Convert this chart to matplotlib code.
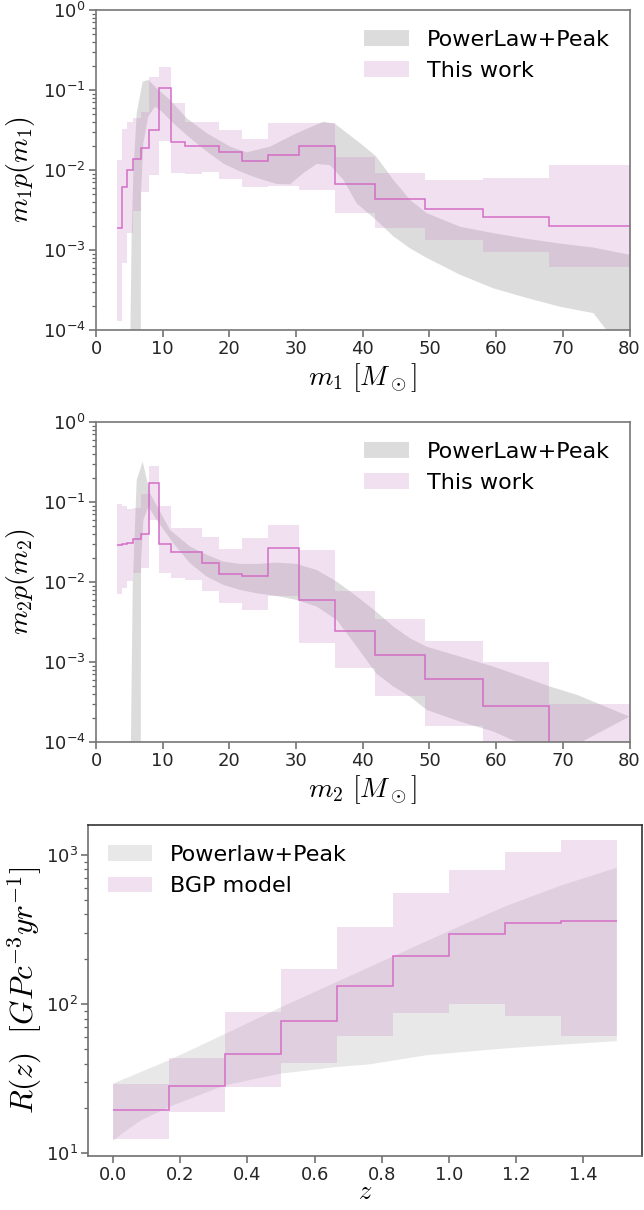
import numpy as np
import matplotlib
matplotlib.use("Agg")
import matplotlib.pyplot as plt

plt.rcParams['font.family'] = ['DejaVu Sans']
plt.rcParams['mathtext.fontset'] = 'cm'

# ---------------- m1 panel ----------------
m_edges = [3.1, 3.85, 4.6, 5.6, 6.7, 8.0, 9.5, 11.2, 13.35, 15.85, 18.5, 21.9,
           25.85, 30.4, 35.8, 41.9, 49.4, 58.0, 68.0, 80.0]
m1_med = [1.87e-3, 6.07e-3, 1.0e-2, 1.37e-2, 1.87e-2, 3.16e-2, 0.106, 2.26e-2, 2.0e-2,
          2.0e-2, 1.66e-2, 1.31e-2, 1.54e-2, 2.0e-2, 6.68e-3, 4.34e-3, 3.23e-3, 2.61e-3, 2.0e-3]
m1_hi = [1.33e-2, 3.25e-2, 3.95e-2, 4.5e-2, 5.26e-2, 0.147, 0.196, 6.8e-2, 3.95e-2,
         3.95e-2, 3.16e-2, 2.42e-2, 3.83e-2, 3.83e-2, 1.44e-2, 9.26e-3, 7.5e-3, 7.9e-3, 1.15e-2]
m1_lo = [1.31e-4, 6.8e-4, 1.62e-3, 3.1e-3, 5.26e-3, 8.66e-3, 2.3e-2, 9.1e-3, 8.8e-3,
         9.4e-3, 7.7e-3, 6.2e-3, 6.3e-3, 5.6e-3, 2.88e-3, 1.87e-3, 1.33e-3, 9.3e-4, 6.1e-4]

# PowerLaw+Peak band (m1): upper and lower edges, log10 values
pl1_up_m = [5.0, 5.35, 5.6, 6.1, 7.0, 7.85, 9.1, 11.1, 13.6, 16.6, 20.1, 22.6, 26.1,
            30.1, 34.1, 35.85, 39.6, 42.0, 44.6, 47.1, 49.6, 54.6, 59.6, 64.6, 69.6, 74.6, 80.0]
pl1_up_lg = [-5, -2.79, -2.04, -1.29, -0.896, -0.875, -0.979, -1.125, -1.354, -1.54, -1.708,
             -1.78, -1.708, -1.54, -1.396, -1.425, -1.665, -1.83, -2.125, -2.375, -2.54,
             -2.71, -2.79, -2.86, -2.92, -2.97, -3.06]
pl1_lo_m = [6.7, 6.75, 7.1, 7.85, 8.85, 9.85, 11.6, 14.1, 16.6, 19.1, 21.6, 24.1, 27.1,
            29.1, 31.1, 33.1, 35.1, 37.1, 39.1, 42.0, 44.6, 47.1, 49.6, 54.6, 59.6, 64.6,
            69.6, 74.6, 77.0, 80.0]
pl1_lo_lg = [-5, -2.29, -1.667, -1.33, -1.21, -1.27, -1.417, -1.6, -1.77, -1.92, -2.02,
             -2.1, -2.175, -2.18, -2.04, -1.925, -1.94, -2.125, -2.42, -2.625, -2.83, -2.98,
             -3.1, -3.31, -3.48, -3.6, -3.71, -3.79, -4.05, -4.4]

# ---------------- m2 panel ----------------
m2_med = [2.9e-2, 2.99e-2, 3.1e-2, 3.45e-2, 3.95e-2, 0.174, 2.95e-2, 2.4e-2, 2.35e-2,
          1.74e-2, 1.26e-2, 1.19e-2, 2.69e-2, 5.96e-3, 2.46e-3, 1.22e-3, 6.1e-4, 2.8e-4, 1e-6]
m2_hi = [9.3e-2, 8.9e-2, 8.1e-2, 8.3e-2, 0.126, 0.28, 8.9e-2, 4.77e-2, 4.68e-2, 3.6e-2,
         2.57e-2, 3.58e-2, 5.2e-2, 2.5e-2, 7.7e-3, 3.4e-3, 1.85e-3, 1.0e-3, 2.96e-4]
m2_lo = [7.0e-3, 8.3e-3, 1.03e-2, 1.29e-2, 1.48e-2, 5.87e-2, 1.31e-2, 1.11e-2, 1.06e-2,
         7.8e-3, 5.5e-3, 4.4e-3, 6.6e-3, 1.75e-3, 8.3e-4, 3.76e-4, 1.6e-4, 1e-6, 1e-6]

pl2_up_m = [5.1, 5.5, 6.1, 7.0, 8.1, 11.1, 14.1, 16.6, 19.1, 21.6, 24.1, 27.1, 30.1, 33.1,
            36.1, 39.1, 42.0, 44.6, 47.1, 49.6, 54.6, 59.6, 64.6, 68.1, 72.1, 74.6, 80.0]
pl2_up_lg = [-5, -2.06, -0.725, -0.496, -0.892, -1.35, -1.558, -1.66, -1.745, -1.775,
             -1.775, -1.758, -1.775, -1.85, -1.996, -2.18, -2.37, -2.558, -2.704, -2.81,
             -2.933, -3.058, -3.204, -3.308, -3.41, -3.496, -3.683]
pl2_lo_m = [6.7, 6.75, 7.1, 7.85, 9.1, 11.6, 14.1, 16.6, 19.1, 21.6, 24.1, 27.1, 30.1,
            33.1, 36.1, 39.1, 42.0, 44.6, 47.1, 49.6, 54.6, 59.6, 63.1, 66.0]
pl2_lo_lg = [-5, -1.767, -1.225, -1.058, -1.225, -1.517, -1.767, -1.933, -2.0375, -2.1,
             -2.142, -2.175, -2.225, -2.308, -2.475, -2.808, -3.142, -3.308, -3.433, -3.6,
             -3.746, -3.87, -4.0, -4.3]

# ---------------- rate panel ----------------
z_edges = [0, 1/6, 2/6, 3/6, 4/6, 5/6, 1.0, 7/6, 8/6, 1.5]
r_med = [19.4, 28.3, 46.7, 77.6, 132.7, 211, 294, 351, 362]
r_hi = [29.4, 43.8, 88, 172, 330, 553, 794, 1043, 1260]
r_lo = [12.4, 18.9, 27.9, 40.4, 61, 87.5, 101, 83, 61]

plr_up_z = [0.0, 0.167, 0.333, 0.5, 0.667, 0.833, 1.0, 1.167, 1.333, 1.5]
plr_up_lg = [1.468, 1.625, 1.8, 1.98, 2.15, 2.32, 2.49, 2.655, 2.795, 2.915]
plr_lo_z = [0.0, 0.033, 0.083, 0.166, 0.332, 0.5, 0.666, 0.765, 0.933, 1.165, 1.332, 1.5]
plr_lo_lg = [1.083, 1.143, 1.221, 1.311, 1.456, 1.535, 1.579, 1.597, 1.658, 1.703, 1.729, 1.752]

PINK = (203/255, 135/255, 195/255)
PINK_A = 0.25
LINE = '#d36ec6'
GRAY = '#7a7a7a'


def band(ax, xu, lu, xl, ll, alpha, label):
    xs = np.concatenate([xu, xl[::-1]])
    ys = 10 ** np.concatenate([lu, ll[::-1]])
    return ax.fill(xs, ys, color=GRAY, alpha=alpha, lw=0, label=label)[0]


def style(ax, spine_col):
    for s in ax.spines.values():
        s.set_color(spine_col)
        s.set_linewidth(1.2)
    ax.tick_params(which='major', length=5, width=1.1, color='#666666', pad=2.5,
                   labelsize=13, labelcolor='#262626')
    ax.tick_params(which='minor', length=3, width=0.9, color='#666666')
    ax.tick_params(axis='x', which='minor', bottom=False)


fig = plt.figure(figsize=(6.44, 12.10), dpi=100)

# panel 1
ax1 = fig.add_axes([0.1491, 0.7273, 0.8284, 0.2645])
g1 = band(ax1, np.array(pl1_up_m), np.array(pl1_up_lg), np.array(pl1_lo_m),
          np.array(pl1_lo_lg), 0.26, 'PowerLaw+Peak')
p1 = ax1.stairs(m1_hi, m_edges, baseline=m1_lo, fill=True, color=PINK, alpha=PINK_A,
                lw=0, label='This work')
ax1.stairs(m1_med, m_edges, baseline=None, color=LINE, lw=1.1)
ax1.set_yscale('log')
ax1.set_xlim(0, 80)
ax1.set_ylim(1e-4, 1)
ax1.set_xlabel(r'$m_1\ [M_\odot]$', fontsize=20, labelpad=2)
ax1.set_ylabel(r'$m_1p(m_1)$', fontsize=20)
ax1.legend(handles=[g1, p1], loc='upper right', frameon=False, fontsize=16)
style(ax1, '#777777')

# panel 2
ax2 = fig.add_axes([0.1491, 0.3868, 0.8284, 0.2645])
g2 = band(ax2, np.array(pl2_up_m), np.array(pl2_up_lg), np.array(pl2_lo_m),
          np.array(pl2_lo_lg), 0.26, 'PowerLaw+Peak')
p2 = ax2.stairs(m2_hi, m_edges, baseline=m2_lo, fill=True, color=PINK, alpha=PINK_A,
                lw=0, label='This work')
ax2.stairs(m2_med, m_edges, baseline=None, color=LINE, lw=1.1)
ax2.set_yscale('log')
ax2.set_xlim(0, 80)
ax2.set_ylim(1e-4, 1)
ax2.set_xlabel(r'$m_2\ [M_\odot]$', fontsize=20, labelpad=2)
ax2.set_ylabel(r'$m_2p(m_2)$', fontsize=20)
ax2.legend(handles=[g2, p2], loc='upper right', frameon=False, fontsize=16)
style(ax2, '#777777')

# panel 3
ax3 = fig.add_axes([0.1366, 0.0446, 0.8602, 0.2736])
g3 = band(ax3, np.array(plr_up_z), np.array(plr_up_lg), np.array(plr_lo_z),
          np.array(plr_lo_lg), 0.17, 'Powerlaw+Peak')
p3 = ax3.stairs(r_hi, z_edges, baseline=r_lo, fill=True, color=PINK, alpha=PINK_A,
                lw=0, label='BGP model')
ax3.stairs(r_med, z_edges, baseline=None, color=LINE, lw=1.1)
ax3.set_yscale('log')
ax3.set_xlim(-0.075, 1.575)
ax3.set_ylim(9.6, 1590)
ax3.set_xlabel(r'$z$', fontsize=19, labelpad=-4)
ax3.set_ylabel(r'$R(z)\ \ [GPc^{-3}yr^{-1}]$', fontsize=22.5, labelpad=1)
ax3.legend(handles=[g3, p3], loc='upper left', frameon=False, fontsize=16)
style(ax3, '#333333')
ax3.spines['left'].set_color('#707070')
ax3.spines['bottom'].set_color('#707070')

fig.savefig('out.png', dpi=100)
